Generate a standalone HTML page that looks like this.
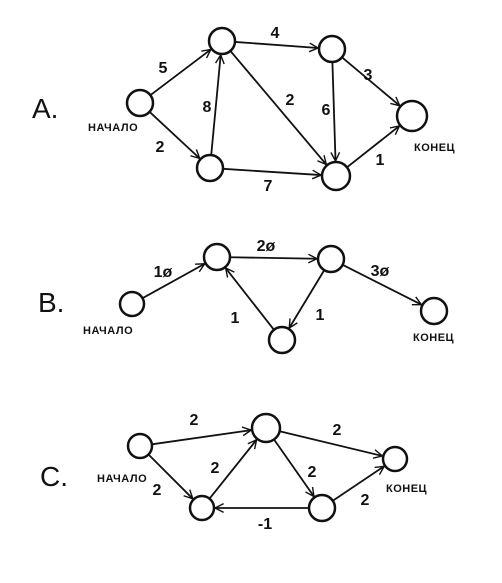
<!DOCTYPE html>
<html><head><meta charset="utf-8"><style>
html,body{margin:0;padding:0;background:#fff;width:502px;height:583px;overflow:hidden}
svg{display:block}
text{font-family:"Liberation Sans",sans-serif;fill:#111}
.lbl{font-size:16px;font-weight:bold}
.w{font-size:11px;font-weight:bold;letter-spacing:0.5px}
.big{font-size:28px}
</style></head><body>
<svg id="g" width="502" height="583" viewBox="0 0 502 583">
<defs><marker id="ar" viewBox="0 0 10 10" refX="9" refY="5" markerWidth="6" markerHeight="6" orient="auto-start-reverse"><path d="M1,1 L9,5 L1,9" fill="none" stroke="#111" stroke-width="1.3"/></marker></defs>
</svg>
<script>
// Graph node positions and edges (weights)
const nodesA=[[140,103,13],[222,41,13],[210,168,13],[332,49,13],[336,176,14],[412,116,15]];
const edgesA=[[0,1,"5",163,68],[0,2,"2",160,147],[2,1,"8",207,107],[1,3,"4",275,33],[1,4,"2",290,100],[3,4,"6",326,110],[3,5,"3",368,75],[4,5,"1",380,160],[2,4,"7",268,186]];
const nodesB=[[132,304,12],[217,257,13],[331,259,13],[282,340,13],[434,311,13]];
const edgesB=[[0,1,"1ø",163,272],[1,2,"2ø",266,246],[2,4,"3ø",380,271],[3,1,"1",235,318],[2,3,"1",320,315]];
const nodesC=[[140,446,12],[266,428,14],[202,508,12],[322,508,13],[395,459,12]];
const edgesC=[[0,1,"2",194,420],[0,2,"2",157,490],[2,1,"2",215,468],[1,3,"2",312,472],[1,4,"2",337,430],[3,4,"2",365,500],[3,2,"-1",265,524]];
const titles=[["A.",32,118],["B.",38,312],["C.",40,486]];
const starts=[["НАЧАЛО",88,131],["НАЧАЛО",83,334],["НАЧАЛО",97,482]];
const ends=[["КОНЕЦ",414,151],["КОНЕЦ",413,341],["КОНЕЦ",386,492]];
const svg=document.getElementById('g');const NS='http://www.w3.org/2000/svg';
function mk(t,a){const e=document.createElementNS(NS,t);for(const k in a)e.setAttribute(k,a[k]);svg.appendChild(e);return e;}
function draw(nodes,edges,gname){
  edges.forEach(([s,t,w,lx,ly])=>{
    const [x1,y1,r1]=nodes[s],[x2,y2,r2]=nodes[t];const dx=x2-x1,dy=y2-y1,d=Math.hypot(dx,dy);
    const l=mk('line',{x1:x1+dx/d*r1,y1:y1+dy/d*r1,x2:x2-dx/d*(r2+1),y2:y2-dy/d*(r2+1),stroke:'#111','stroke-width':1.8,'marker-end':'url(#ar)'});
    
    
    const tx=mk('text',{x:lx,y:ly+5,'text-anchor':'middle',class:'lbl'});tx.textContent=w;
    
    
  });
  nodes.forEach(([x,y,r])=>{const c=mk('circle',{cx:x,cy:y,r:r,fill:'#fff',stroke:'#111','stroke-width':2.5});
    
    });
}
draw(nodesA,edgesA,'graph-a');draw(nodesB,edgesB,'graph-b');draw(nodesC,edgesC,'graph-c');
titles.forEach(([t,x,y])=>{const e=mk('text',{x:x,y:y,class:'big'});e.textContent=t;
  
  });
starts.concat(ends).forEach(([t,x,y])=>{const e=mk('text',{x:x,y:y,class:'w'});e.textContent=t;
  
  });
</script>
</body></html>
